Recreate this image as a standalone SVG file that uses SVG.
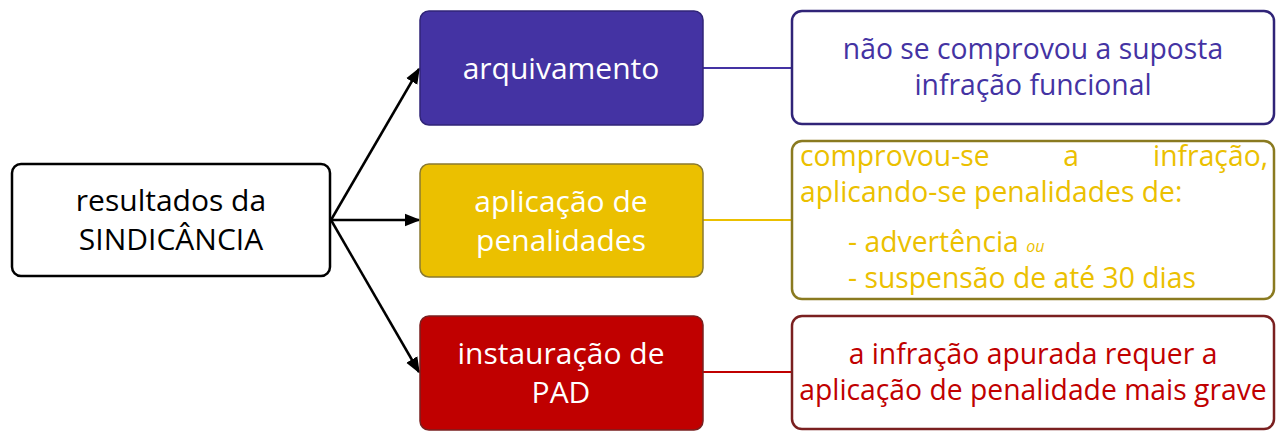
<svg xmlns="http://www.w3.org/2000/svg" width="1286" height="442" viewBox="0 0 1286 442">
<style>
text{font-family:"Open Sans","Liberation Sans",sans-serif;font-weight:500;}
.c{text-anchor:middle;}
.mid{font-size:30px;fill:#fff;}
.rt{font-size:28.3px;}
.conn{stroke:#000;stroke-width:2.5;fill:none;}
</style>
<defs>
<marker id="ah2" viewBox="0 0 10 10" refX="9" refY="5" markerWidth="16" markerHeight="16" orient="auto" markerUnits="userSpaceOnUse">
<path d="M0,1 L10,5 L0,9 z" fill="#000"/>
</marker>
</defs>
<g id="connectors">
<line class="conn" x1="331" y1="220" x2="419" y2="69" marker-end="url(#ah2)"/>
<line class="conn" x1="331" y1="220" x2="419" y2="220" marker-end="url(#ah2)"/>
<line class="conn" x1="331" y1="220" x2="419" y2="372" marker-end="url(#ah2)"/>
<line x1="703" y1="68" x2="792" y2="68" stroke="#4433A3" stroke-width="2"/>
<line x1="703" y1="220" x2="792" y2="220" stroke="#EBC000" stroke-width="2"/>
<line x1="703" y1="372" x2="792" y2="372" stroke="#C00000" stroke-width="2"/>
</g>
<g id="root">
<rect x="12" y="164" width="318" height="112" rx="9" fill="#fff" stroke="#000" stroke-width="2.5"/>
<text class="c" x="171" y="211" font-size="30" fill="#000">resultados da</text>
<text class="c" x="171" y="250" font-size="30" fill="#000">SINDICÂNCIA</text>
</g>
<g id="arquivamento">
<rect x="420" y="11" width="283" height="114" rx="9" fill="#4433A3" stroke="#302478" stroke-width="1.5"/>
<text class="c mid" x="561" y="79">arquivamento</text>
</g>
<g id="aplicacao">
<rect x="420" y="164" width="283" height="113" rx="9" fill="#EBC000" stroke="#8a7a30" stroke-width="1.5"/>
<text class="c mid" x="561" y="212">aplicação de</text>
<text class="c mid" x="561" y="251">penalidades</text>
</g>
<g id="instauracao">
<rect x="420" y="316" width="283" height="114" rx="9" fill="#C00000" stroke="#7a2020" stroke-width="1.5"/>
<text class="c mid" x="561" y="364">instauração de</text>
<text class="c mid" x="561" y="403">PAD</text>
</g>
<g id="desc-arquivamento">
<rect x="792" y="11" width="482" height="113" rx="10" fill="#fff" stroke="#302478" stroke-width="2.5"/>
<text class="c rt" x="1033" y="59" fill="#4433A3">não se comprovou a suposta</text>
<text class="c rt" x="1033" y="95" fill="#4433A3">infração funcional</text>
</g>
<g id="desc-aplicacao">
<rect x="792" y="141" width="482" height="158" rx="10" fill="#fff" stroke="#8a7a20" stroke-width="2.5"/>
<text class="rt" x="800" y="166" fill="#EBC000">comprovou-se</text>
<text class="rt c" x="1071" y="166" fill="#EBC000">a</text>
<text class="rt" x="1268" y="166" fill="#EBC000" text-anchor="end">infração,</text>
<text class="rt" x="800" y="202" fill="#EBC000">aplicando-se penalidades de:</text>
<text class="rt" x="848" y="252" fill="#EBC000">- advertência <tspan font-size="16" font-style="italic">ou</tspan></text>
<text class="rt" x="848" y="288" fill="#EBC000">- suspensão de até 30 dias</text>
</g>
<g id="desc-instauracao">
<rect x="792" y="316" width="482" height="113" rx="10" fill="#fff" stroke="#7a2020" stroke-width="2.5"/>
<text class="c rt" x="1033" y="364" fill="#C00000">a infração apurada requer a</text>
<text class="c rt" x="1033" y="400" fill="#C00000">aplicação de penalidade mais grave</text>
</g>
</svg>
